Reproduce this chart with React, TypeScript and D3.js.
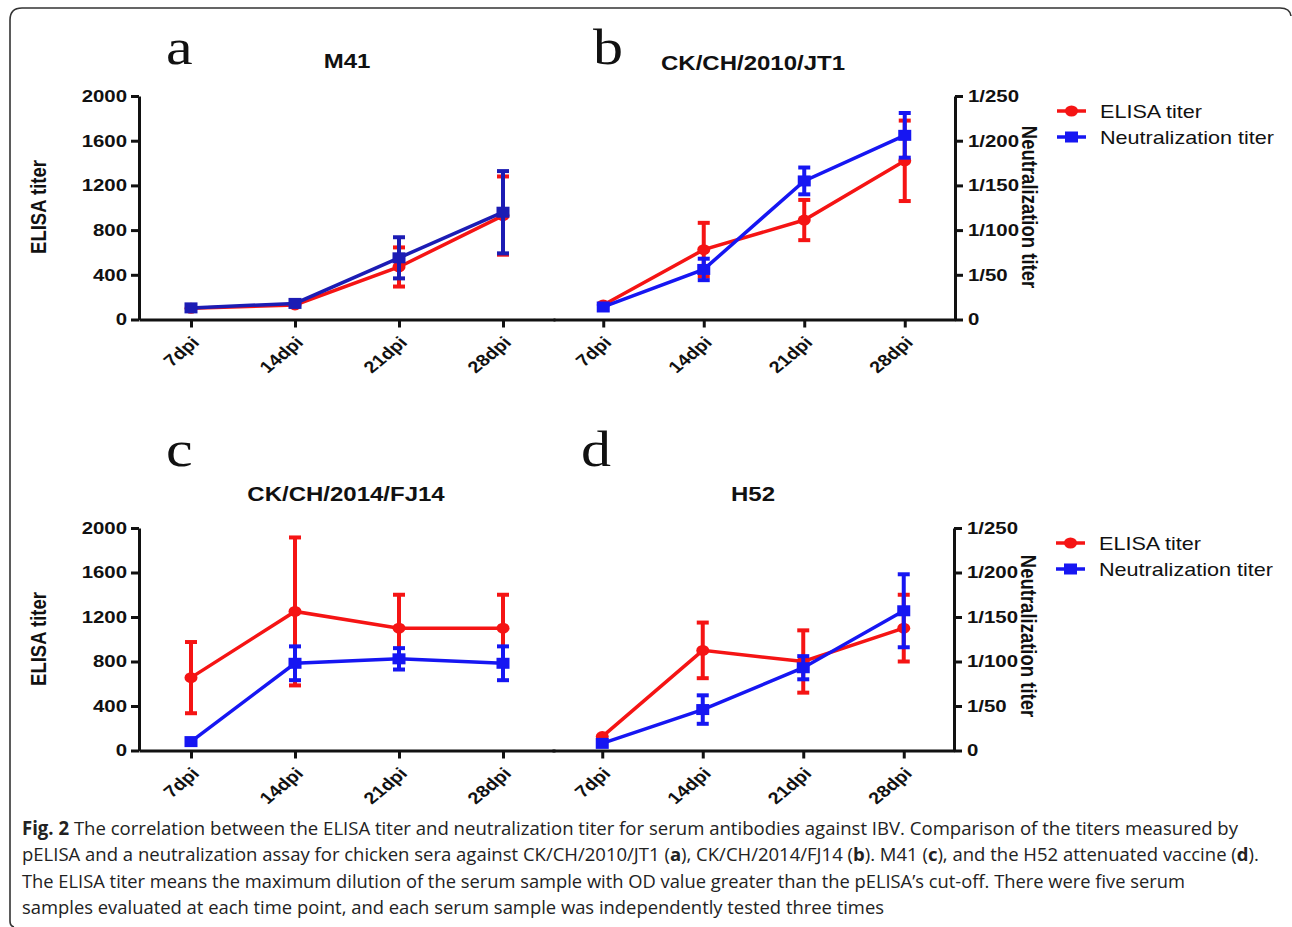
import React, { useEffect, useRef } from 'react';
import * as d3 from 'd3';

const WIDTH = 1292;
const HEIGHT = 927;
const SX = 1.2; // the source figure is stretched horizontally
const FONT = 'Liberation Sans, Arial, sans-serif';
const RED = '#f51414';
const BLUE = '#1616f2';
const NAVY = '#1c1cb4';

const dpi = ['7dpi', '14dpi', '21dpi', '28dpi'];
const elisaTicks = [0, 400, 800, 1200, 1600, 2000];
const neutTicks = [0, 50, 100, 150, 200, 250];
const neutTickLabels = ['0', '1/50', '1/100', '1/150', '1/200', '1/250'];
const legendLabels = ['ELISA titer', 'Neutralization titer'];

// a: M41
const m41Elisa = [100, 130, 470, 930];
const m41ElisaErr = [0, 0, 175, 350];
const m41Neut = [13, 18, 69, 120];
const m41NeutErr = [0, 0, 23, 46];
// b: CK/CH/2010/JT1
const jt1Elisa = [130, 625, 890, 1420];
const jt1ElisaErr = [0, 240, 180, 360];
const jt1Neut = [14, 56, 155, 206];
const jt1NeutErr = [0, 12, 15, 25];
// c: CK/CH/2014/FJ14
const fj14Elisa = [655, 1250, 1100, 1100];
const fj14ElisaErr = [320, 665, 300, 300];
const fj14Neut = [10, 98, 103, 98];
const fj14NeutErr = [0, 19, 12, 19];
// d: H52
const h52Elisa = [125, 900, 800, 1100];
const h52ElisaErr = [0, 250, 280, 300];
const h52Neut = [8, 46, 93, 157];
const h52NeutErr = [0, 16, 13, 41];

type Panel = {
  letter: string;
  title: string;
  xr: [number, number];
  yr: [number, number];
  side: 'left' | 'right';
  elisa: number[];
  elisaErr: number[];
  neut: number[];
  neutErr: number[];
  blue: string;
  letterAt: [number, number];
  titleAt: [number, number];
  labelY: number;
  legendY?: number;
};

const PANELS: Panel[] = [
  { letter: 'a', title: 'M41', xr: [139, 555], yr: [319.5, 96], side: 'left', elisa: m41Elisa, elisaErr: m41ElisaErr, neut: m41Neut, neutErr: m41NeutErr, blue: NAVY, letterAt: [166, 64], titleAt: [347, 68], labelY: 207 },
  { letter: 'b', title: 'CK/CH/2010/JT1', xr: [553, 955], yr: [319.5, 96], side: 'right', elisa: jt1Elisa, elisaErr: jt1ElisaErr, neut: jt1Neut, neutErr: jt1NeutErr, blue: BLUE, letterAt: [593, 64], titleAt: [753, 70], labelY: 207, legendY: 111 },
  { letter: 'c', title: 'CK/CH/2014/FJ14', xr: [139, 555], yr: [750.5, 528], side: 'left', elisa: fj14Elisa, elisaErr: fj14ElisaErr, neut: fj14Neut, neutErr: fj14NeutErr, blue: BLUE, letterAt: [166, 466], titleAt: [346, 501], labelY: 639 },
  { letter: 'd', title: 'H52', xr: [552, 954], yr: [750.5, 528], side: 'right', elisa: h52Elisa, elisaErr: h52ElisaErr, neut: h52Neut, neutErr: h52NeutErr, blue: BLUE, letterAt: [581, 466], titleAt: [753, 501], labelY: 636, legendY: 543 },
];

const caption: [string, boolean][][] = [
  [['Fig. 2', true], [' The correlation between the ELISA titer and neutralization titer for serum antibodies against IBV. Comparison of the titers measured by', false]],
  [['pELISA and a neutralization assay for chicken sera against CK/CH/2010/JT1 (', false], ['a', true], ['), CK/CH/2014/FJ14 (', false], ['b', true], ['). M41 (', false], ['c', true], ['), and the H52 attenuated vaccine (', false], ['d', true], [').', false]],
  [['The ELISA titer means the maximum dilution of the serum sample with OD value greater than the pELISA\u2019s cut-off. There were five serum', false]],
  [['samples evaluated at each time point, and each serum sample was independently tested three times', false]],
];
// fitted widths for the plain lines; the line with bold letters keeps its natural width
const captionWidths = [1216, 0, 1163, 862];

export default function App() {
  const ref = useRef<SVGSVGElement>(null);

  useEffect(() => {
    document.body.style.margin = '0';
    if (!ref.current) return;
    const svg = d3.select(ref.current);
    svg.selectAll('*').remove();

    svg.append('rect').attr('width', WIDTH).attr('height', HEIGHT).attr('fill', '#fff');

    // frame
    svg.append('path')
      .attr('d', 'M1291,16 Q1290,8 1280,8 L22,8 Q10,8 10,20 L10,921 Q10,926 14,927')
      .attr('fill', 'none')
      .attr('stroke', '#333')
      .attr('stroke-width', 1.6);

    PANELS.forEach((p) => {
      const g = svg.append('g');
      const x = d3.scalePoint<string>().domain(dpi).range(p.xr).padding(0.5);
      const yE = d3.scaleLinear().domain([0, 2000]).range(p.yr);
      const yN = d3.scaleLinear().domain([0, 250]).range(p.yr);
      const y0 = p.yr[0];

      // panel letter + title
      g.append('text')
        .attr('transform', `translate(${p.letterAt[0]},${p.letterAt[1]}) scale(${SX},1)`)
        .attr('font-family', 'Liberation Serif, serif')
        .attr('font-size', 50)
        .attr('fill', '#111')
        .text(p.letter);
      g.append('text')
        .attr('transform', `translate(${p.titleAt[0]},${p.titleAt[1]}) scale(${SX},1)`)
        .attr('text-anchor', 'middle')
        .attr('font-family', FONT)
        .attr('font-weight', 'bold')
        .attr('font-size', 20)
        .attr('fill', '#111')
        .text(p.title);

      // x axis
      const xAxis = g.append('g')
        .attr('transform', `translate(0,${y0})`)
        .call(d3.axisBottom(x).tickSize(8).tickSizeOuter(0));
      xAxis.selectAll('.tick text')
        .attr('x', 0).attr('y', 0).attr('dy', '0.35em')
        .attr('text-anchor', 'end')
        .attr('transform', `translate(4,20) scale(${SX},1) rotate(-45)`);

      // y axis
      let yAxis;
      if (p.side === 'left') {
        yAxis = g.append('g')
          .attr('transform', `translate(${p.xr[0]},0)`)
          .call(d3.axisLeft(yE).tickValues(elisaTicks).tickSize(8).tickSizeOuter(0)
            .tickFormat(d3.format('d')));
        yAxis.selectAll('.tick text').attr('x', 0).attr('transform', `translate(-12,0) scale(${SX},1)`);
        g.append('text')
          .attr('transform', `translate(46,${p.labelY}) scale(${SX},1) rotate(-90)`)
          .attr('text-anchor', 'middle')
          .attr('font-family', FONT).attr('font-weight', 'bold').attr('font-size', 18.5)
          .attr('fill', '#111')
          .text('ELISA titer');
      } else {
        yAxis = g.append('g')
          .attr('transform', `translate(${p.xr[1]},0)`)
          .call(d3.axisRight(yN).tickValues(neutTicks).tickSize(8).tickSizeOuter(0)
            .tickFormat((_, i) => neutTickLabels[i]));
        yAxis.selectAll('.tick text').attr('x', 0).attr('transform', `translate(13,0) scale(${SX},1)`);
        g.append('text')
          .attr('transform', `translate(${p.xr[1] + 67},${p.labelY}) scale(${SX},1) rotate(90)`)
          .attr('text-anchor', 'middle')
          .attr('font-family', FONT).attr('font-weight', 'bold').attr('font-size', 18.5)
          .attr('fill', '#111')
          .text('Neutralization titer');
      }

      [xAxis, yAxis].forEach((ax) => {
        ax.attr('font-family', FONT).attr('font-size', 17).attr('font-weight', 'bold');
        ax.select('.domain').attr('stroke', '#111').attr('stroke-width', 3);
        ax.selectAll('.tick line').attr('stroke', '#111').attr('stroke-width', 3);
        ax.selectAll('.tick text').attr('fill', '#111');
      });
      xAxis.attr('font-size', 16.5);

      // series
      const series = [
        { vals: p.elisa, errs: p.elisaErr, y: yE, color: RED, shape: 'circle' },
        { vals: p.neut, errs: p.neutErr, y: yN, color: p.blue, shape: 'square' },
      ];
      series.forEach((s) => {
        const sg = g.append('g');
        const line = d3.line<number>().x((_, i) => x(dpi[i])!).y((d) => s.y(d));
        sg.append('path')
          .attr('d', line(s.vals))
          .attr('fill', 'none')
          .attr('stroke', s.color)
          .attr('stroke-width', 3.5);
        s.vals.forEach((v, i) => {
          const e = s.errs[i];
          if (!e) return;
          const cx = x(dpi[i])!;
          const top = s.y(v + e);
          const bot = s.y(v - e);
          sg.append('line').attr('x1', cx).attr('x2', cx).attr('y1', top).attr('y2', bot)
            .attr('stroke', s.color).attr('stroke-width', 4);
          [top, bot].forEach((yy) => {
            sg.append('line').attr('x1', cx - 6).attr('x2', cx + 6).attr('y1', yy).attr('y2', yy)
              .attr('stroke', s.color).attr('stroke-width', 4);
          });
        });
        s.vals.forEach((v, i) => {
          const cx = x(dpi[i])!;
          if (s.shape === 'circle') {
            sg.append('ellipse').attr('cx', cx).attr('cy', s.y(v)).attr('rx', 6.5).attr('ry', 5.5).attr('fill', s.color);
          } else {
            sg.append('rect').attr('x', cx - 6.5).attr('y', s.y(v) - 5.5).attr('width', 13).attr('height', 11).attr('fill', s.color);
          }
        });
      });

      // legend
      if (p.legendY !== undefined) {
        const lx = p.xr[1] + 102;
        legendLabels.forEach((label, i) => {
          const ly = p.legendY! + i * 26;
          const color = i === 0 ? RED : BLUE;
          g.append('line').attr('x1', lx).attr('x2', lx + 29).attr('y1', ly).attr('y2', ly)
            .attr('stroke', color).attr('stroke-width', 3.5);
          if (i === 0) {
            g.append('ellipse').attr('cx', lx + 14.5).attr('cy', ly).attr('rx', 6.5).attr('ry', 5.5).attr('fill', color);
          } else {
            g.append('rect').attr('x', lx + 8).attr('y', ly - 5.5).attr('width', 13).attr('height', 11).attr('fill', color);
          }
          g.append('text')
            .attr('transform', `translate(${lx + 43},${ly + 6.5}) scale(${SX},1)`)
            .attr('font-family', FONT).attr('font-size', 18).attr('fill', '#111')
            .text(label);
        });
      }
    });

    // caption
    caption.forEach((parts, li) => {
      const t = svg.append('text')
        .attr('x', 22)
        .attr('y', 835 + li * 26.3)
        .attr('font-family', 'Open Sans, sans-serif')
        .attr('font-size', captionWidths[li] ? 19 : 18.5)
        .attr('fill', '#222');
      if (captionWidths[li]) {
        t.attr('textLength', captionWidths[li]).attr('lengthAdjust', 'spacingAndGlyphs');
      }
      parts.forEach(([str, bold]) => {
        t.append('tspan').attr('font-weight', bold ? 'bold' : 'normal').text(str);
      });
    });
  }, []);

  return <svg ref={ref} width={WIDTH} height={HEIGHT} style={{ display: 'block' }} />;
}
